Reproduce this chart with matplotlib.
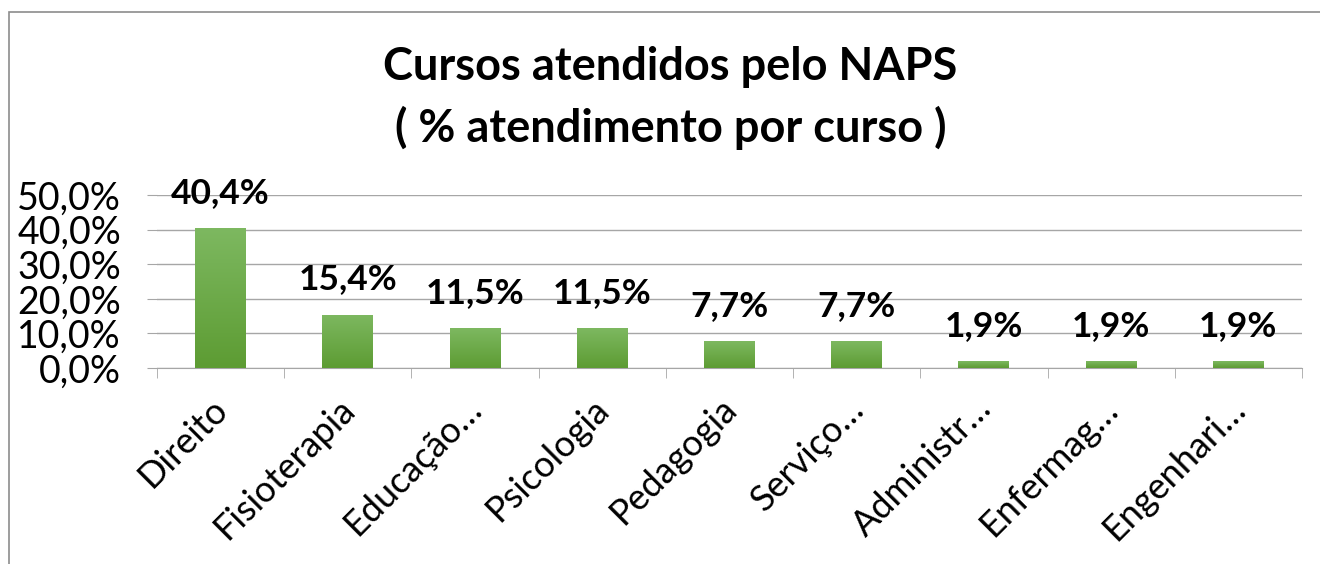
import matplotlib
matplotlib.use("Agg")
import matplotlib.pyplot as plt
from matplotlib.patches import Rectangle
from matplotlib.transforms import ScaledTranslation
import numpy as np

cursos = ["Direito", "Fisioterapia", "Educação…", "Psicologia", "Pedagogia",
          "Serviço…", "Administr…", "Enfermag…", "Engenhari…"]
percentuais = [40.4, 15.4, 11.5, 11.5, 7.7, 7.7, 1.9, 1.9, 1.9]
yticks = [0, 10, 20, 30, 40, 50]

plt.rcParams['font.family'] = ['Lato', 'DejaVu Sans']

fig = plt.figure(figsize=(13.2, 5.64), dpi=100)
ax = fig.add_axes([157/1320, 1 - 368/564, (1302-157)/1320, (368-195)/564])

x = np.arange(len(cursos))
bars = ax.bar(x, percentuais, width=0.4, color="#6aaa44", zorder=3)

# vertical gradient on each bar (light top, darker bottom)
grad = np.linspace(0, 1, 100).reshape(-1, 1)
cmap = matplotlib.colors.LinearSegmentedColormap.from_list("g", ["#5d9c33", "#7db860"])
for b in bars:
    im = ax.imshow(grad, extent=(b.get_x(), b.get_x() + b.get_width(), 0, b.get_height()),
                   origin="lower", cmap=cmap, aspect="auto", zorder=4)
    im.set_clip_path(b)

for xi, v in zip(x, percentuais):
    ax.annotate(f"{v:.1f}%".replace(".", ","), (xi, v), xytext=(0, 14),
                textcoords="offset points", ha="center", va="bottom",
                fontsize=25.5, fontweight="bold", zorder=5)

ax.set_xlim(-0.5, len(cursos) - 0.5)
ax.set_ylim(0, 50)
ax.set_yticks(yticks)
ax.set_yticklabels([f"{t:.1f}%".replace(".", ",") for t in yticks], fontsize=27)
ax.yaxis.grid(True, color="#a6a6a6", linewidth=1, zorder=0)
ax.tick_params(axis="y", length=7, color="#a6a6a6", pad=19)

ax.set_xticks(x)
ax.set_xticklabels(cursos, rotation=45, ha="right", rotation_mode="anchor", fontsize=26)
ax.tick_params(axis="x", length=0, pad=17)
ax.set_xticks(np.arange(len(cursos) + 1) - 0.5, minor=True)
ax.tick_params(axis="x", which="minor", length=7, color="#a6a6a6")
# nudge rotated labels a little to the left
shift = ScaledTranslation(-0.1, 0, fig.dpi_scale_trans)
for lbl in ax.get_xticklabels():
    lbl.set_transform(lbl.get_transform() + shift)

for s in ["left", "right", "top"]:
    ax.spines[s].set_visible(False)
ax.spines["bottom"].set_color("#a6a6a6")

fig.text(0.508, 1 - 67/564, "Cursos atendidos pelo NAPS", ha="center", va="center",
         fontsize=32.5, fontweight="bold")
fig.text(0.508, 1 - 128/564, "( % atendimento por curso )", ha="center", va="center",
         fontsize=32.5, fontweight="bold")

fig.patches.append(Rectangle((9/1320, -0.1), 1.2, 1 - 12/564 + 0.1, transform=fig.transFigure,
                             fill=False, edgecolor="#8c8c8c", linewidth=1.2))

fig.savefig("out.png", dpi=100, facecolor="white")
